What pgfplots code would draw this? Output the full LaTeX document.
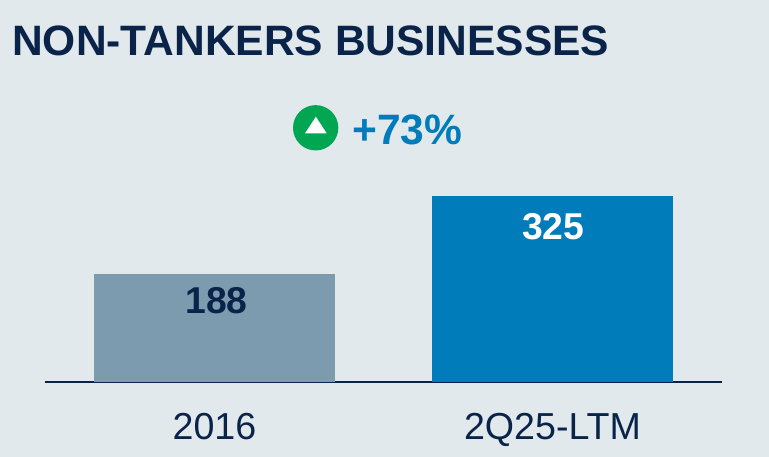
\documentclass[border=0pt]{standalone}
\usepackage{pgfplots}
\pgfplotsset{compat=1.18}
\usepackage{fontspec}
\setmainfont{Liberation Sans}
\definecolor{bg}{HTML}{E2E9ED}
\definecolor{navy}{HTML}{0A2449}
\definecolor{grayb}{HTML}{7D9BAF}
\definecolor{blueb}{HTML}{007CBA}
\definecolor{upg}{HTML}{00A651}
\begin{document}
\begin{tikzpicture}
\fill[bg] (0pt,0pt) rectangle (576.75pt,342.75pt);
\useasboundingbox (0pt,0pt) rectangle (576.75pt,342.75pt);
\begin{axis}[
  at={(33.75pt,56.25pt)},anchor=south west,
  width=507.75pt,height=139.5pt,scale only axis,
  xmin=-0.5015,xmax=1.5015,ymin=0,ymax=325,
  axis y line=none,axis x line*=bottom,
  axis line style={navy,line width=1.1pt,-},
  xtick={0,1},xticklabels={2016,2Q25-LTM},
  x tick label style={font=\fontsize{28.2}{28.2}\selectfont,text=navy,yshift=-20pt},
  major tick length=0pt,
  clip=false,
  ybar,bar width=180.75pt,bar shift=0pt,
  nodes near coords,
  nodes near coords align={below},
  /pgf/number format/assume math mode=true,
  every node near coord/.append style={font=\bfseries\fontsize{28}{28}\selectfont},
]
\addplot[fill=grayb,draw=none,nodes near coords style={text=navy,yshift=-6pt,xshift=1.5pt}] coordinates {(0,188)};
\addplot[fill=blueb,draw=none,nodes near coords style={text=white,yshift=-9.5pt,xshift=0.5pt}] coordinates {(1,325)};
\end{axis}
\node[anchor=west,inner sep=0pt,font=\bfseries\fontsize{31.9}{31.9}\selectfont,text=navy] at (9pt,312pt) {NON-TANKERS BUSINESSES};
\fill[upg] (236.75pt,246.9pt) circle (17pt);
\fill[white] (228.75pt,242.75pt) -- (245pt,242.75pt) -- (236.9pt,255.2pt) -- cycle;
\node[anchor=west,inner sep=0pt,font=\bfseries\fontsize{31.9}{31.9}\selectfont,text=blueb] at (264pt,245pt) {+73\%};
\end{tikzpicture}
\end{document}
